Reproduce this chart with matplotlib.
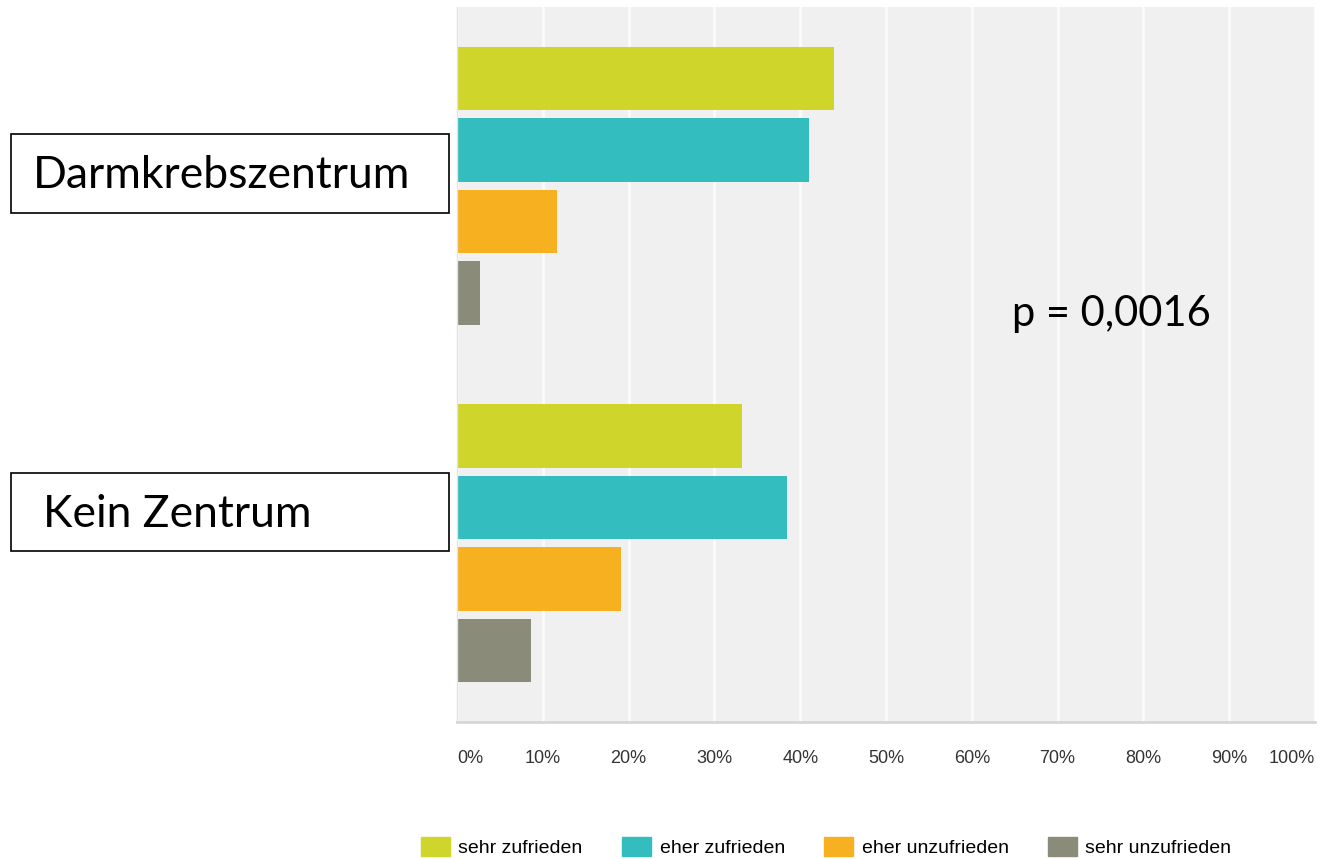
import matplotlib
matplotlib.use("Agg")
import matplotlib.pyplot as plt
from matplotlib.patches import Patch, Rectangle

# -------------------------------
# DATA
# -------------------------------
answers = ["sehr zufrieden", "eher zufrieden", "eher unzufrieden", "sehr unzufrieden"]
groups = ["Darmkrebszentrum", "Kein Zentrum"]
darmkrebszentrum = [43.9, 41.0, 11.6, 2.7]
kein_zentrum = [33.2, 38.5, 19.1, 8.6]
x_ticks = [0, 10, 20, 30, 40, 50, 60, 70, 80, 90, 100]
p_text = "p = 0,0016"

colors = ["#cfd52a", "#33bdbf", "#f7b020", "#8a8b79"]

# -------------------------------
# FIGURE
# -------------------------------
W, H = 1318, 859
fig = plt.figure(figsize=(W / 100, H / 100), dpi=100)
ax = fig.add_axes([457 / W, 1 - 722 / H, (1315 - 457) / W, (722 - 7) / H])
ax.set_facecolor("#f0f0f0")

# bars: group 1 at rows 0-3, group 2 at rows 5-8
for g, vals in enumerate([darmkrebszentrum, kein_zentrum]):
    for i, v in enumerate(vals):
        ax.barh(g * 5 + i, v, height=0.89, color=colors[i], zorder=2)

ax.set_xlim(0, 100)
ax.set_ylim(9, -1)
ax.set_yticks([])
ax.set_xticks(x_ticks)
labels = ax.set_xticklabels([f"{t}%" for t in x_ticks], fontsize=13,
                            family="Liberation Sans", color="#333333")
labels[0].set_ha("left")
labels[-1].set_ha("right")
ax.tick_params(axis="x", length=0, pad=20)
ax.grid(axis="x", color="#fafafa", linewidth=2.2, zorder=1)
ax.set_axisbelow(True)

for s in ["top", "right"]:
    ax.spines[s].set_visible(False)
ax.spines["left"].set_color("#e2e2e2")
ax.spines["left"].set_linewidth(1)
ax.spines["bottom"].set_color("#d6d6d6")
ax.spines["bottom"].set_linewidth(2)

# group labels in boxes
boxes = [(134, 213, 33, 188), (473, 551, 43, 527)]
for name, (top, bot, tx, base) in zip(groups, boxes):
    fig.add_artist(Rectangle((11 / W, 1 - bot / H), 438 / W, (bot - top) / H,
                             transform=fig.transFigure, fill=False,
                             edgecolor="black", linewidth=1.2))
    fig.text(tx / W, 1 - base / H, name, fontsize=32, family="Lato",
             va="baseline", ha="left", color="black")

fig.text(1012 / W, 1 - 326 / H, p_text, fontsize=30, family="Lato",
         va="baseline", ha="left", color="black")

# legend
handles = [Patch(facecolor=c, edgecolor=c) for c in colors]
fig.legend(handles, answers, loc="center", bbox_to_anchor=(826 / W, 1 - 847 / H),
           ncol=4, frameon=False, prop={"family": "Liberation Sans", "size": 14},
           handlelength=1.5, handleheight=1.1, handletextpad=0.45,
           columnspacing=2.0)

fig.savefig("out.png", dpi=100)
